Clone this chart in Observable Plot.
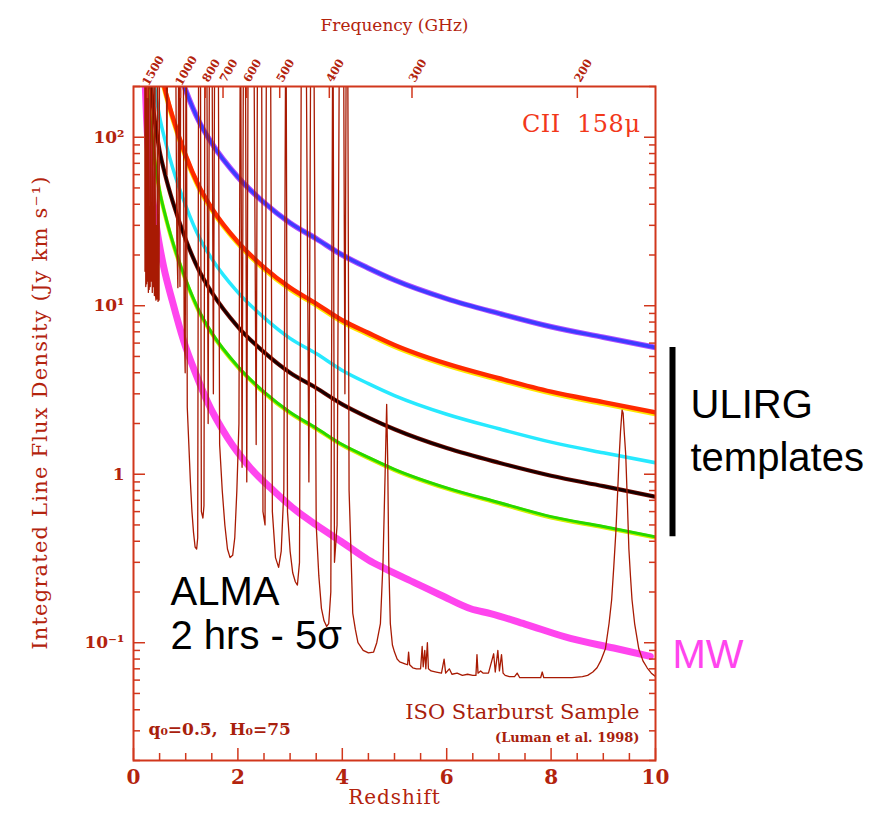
<!DOCTYPE html>
<html><head><meta charset="utf-8">
<script src="https://cdn.jsdelivr.net/npm/d3@7"></script>
<script src="https://cdn.jsdelivr.net/npm/@observablehq/plot@0.6"></script>
<style>body{margin:0;background:#fff}</style>
</head><body><div id="chart"></div>
<script>
// ---- data ----
const zGrid  = [0.25, 0.3, 0.4, 0.5, 0.6, 0.75, 1.0, 1.25, 1.5, 2.0, 2.5, 3.0, 3.5, 4.0, 4.5, 5.0, 6.0, 7.0, 8.0, 9.0, 10.0];
const blueV  = [3000, 2000, 1000, 640, 470, 320, 190, 125, 92, 58, 41, 31, 25, 20, 16.7, 14.2, 11.0, 9.0, 7.5, 6.5, 5.65];
const redV   = [1240, 824, 412, 264, 194, 132, 78, 51.5, 37.9, 23.9, 16.9, 12.8, 10.3, 8.2, 6.9, 5.85, 4.53, 3.71, 3.09, 2.68, 2.33];
const cyanV  = [620, 413, 207, 132, 97, 66, 39.3, 25.8, 19.0, 12.0, 8.5, 6.4, 5.2, 4.13, 3.45, 2.93, 2.27, 1.86, 1.55, 1.34, 1.17];
const blackV = [390, 260, 130, 83, 61, 41.6, 24.7, 16.3, 12.0, 7.5, 5.3, 4.0, 3.25, 2.6, 2.17, 1.85, 1.43, 1.17, 0.98, 0.85, 0.735];
const greenV = [225, 150, 75, 48, 35.3, 24, 14.3, 9.4, 6.9, 4.36, 3.08, 2.33, 1.88, 1.50, 1.26, 1.07, 0.83, 0.68, 0.56, 0.49, 0.425];

const mwZ = [0.2, 0.25, 0.33, 0.45, 0.58, 0.75, 0.96, 1.2, 1.41, 1.8, 2.24, 2.7, 3.14, 3.5, 3.97, 4.5, 4.8, 5.4, 5.88, 6.46, 6.84, 7.5, 8.37, 9.2, 9.9];
const mwV = [320, 130, 55.5, 28, 16.9, 10.5, 6.2, 3.9, 2.72, 1.65, 1.09, 0.79, 0.60, 0.50, 0.40, 0.31, 0.277, 0.226, 0.192, 0.159, 0.149, 0.129, 0.106, 0.093, 0.083];

const specZ = [0.20,0.215,0.22,0.23,0.235,0.245,0.25,0.26,0.265,0.275,0.285,0.29,0.30,0.31,0.32,0.33,0.34,0.35,0.36,0.37,0.38,0.39,0.40,0.41,0.42,0.43,0.44,0.45,0.46,0.47,0.48,0.49,0.50,0.62,0.64,0.66,0.80,0.83,0.85,0.87,0.89,0.91,0.95,0.97,0.99,1.01,1.03,1.06,1.09,1.12,1.15,1.18,1.21,1.23,1.25,1.28,1.30,1.33,1.35,1.37,1.40,1.43,1.46,1.50,1.53,1.56,1.62,1.65,1.70,1.75,1.80,1.85,1.90,1.94,1.98,2.02,2.05,2.08,2.11,2.14,2.17,2.20,2.30,2.35,2.38,2.45,2.48,2.52,2.55,2.62,2.66,2.72,2.78,2.83,2.88,2.92,2.95,3.00,3.05,3.10,3.14,3.18,3.22,3.30,3.36,3.40,3.45,3.50,3.55,3.60,3.65,3.70,3.74,3.78,3.82,3.85,3.90,3.95,4.02,4.05,4.08,4.10,4.13,4.16,4.20,4.25,4.30,4.40,4.50,4.60,4.66,4.73,4.78,4.82,4.85,4.87,4.89,4.92,4.96,5.00,5.05,5.10,5.15,5.20,5.25,5.27,5.29,5.35,5.42,5.50,5.53,5.55,5.58,5.60,5.63,5.65,5.70,5.80,5.90,5.95,5.98,6.05,6.10,6.20,6.30,6.40,6.50,6.56,6.58,6.60,6.65,6.70,6.80,6.90,6.93,6.98,7.01,7.05,7.08,7.12,7.20,7.30,7.35,7.40,7.60,7.80,7.83,7.86,8.00,8.20,8.40,8.60,8.70,8.80,8.88,8.95,9.04,9.11,9.16,9.20,9.24,9.27,9.30,9.33,9.36,9.38,9.40,9.43,9.46,9.49,9.52,9.55,9.60,9.68,9.76,9.84,9.92,10.0];
const specV = [1000,1000,16,1000,13,40,13.5,1000,14,22,12,1000,12.5,25,13,1000,14,35,12,1000,13,20,11.5,1000,11.8,10.8,30,11,1000,10.6,14,10.8,1000,1000,60,1000,1000,25,12.8,1000,13,1000,1000,8,4,1000,2.5,1.5,0.9,0.6,0.45,0.37,0.36,0.42,1000,1000,0.6,0.55,0.65,1000,1000,2,1000,1000,3,1000,1000,1.5,0.8,0.5,0.36,0.32,0.33,0.42,0.8,2,1000,1.1,1000,1000,0.9,1000,1000,1.5,1000,1000,0.6,0.5,1000,1000,0.6,0.32,0.28,0.35,0.8,1000,0.6,0.35,0.26,0.23,0.22,0.3,1000,1000,0.9,1000,1000,0.5,0.25,0.16,0.135,0.125,0.13,0.2,1000,0.3,0.5,1000,1000,3,1000,1000,0.8,0.4,0.15,0.12,0.1,0.09,0.087,0.088,0.1,0.13,0.3,1.0,2.6,1.2,0.3,0.13,0.097,0.088,0.08,0.077,0.076,0.075,0.074,0.088,0.074,0.071,0.07,0.07,0.095,0.072,0.09,0.07,0.1,0.07,0.068,0.067,0.066,0.08,0.066,0.07,0.065,0.066,0.064,0.065,0.064,0.064,0.085,0.066,0.068,0.066,0.066,0.086,0.067,0.09,0.068,0.085,0.066,0.064,0.063,0.063,0.066,0.062,0.062,0.062,0.067,0.062,0.062,0.062,0.062,0.063,0.064,0.067,0.071,0.078,0.092,0.13,0.18,0.28,0.45,0.72,1.2,1.8,2.4,2.3,1.8,1.3,0.7,0.36,0.25,0.18,0.13,0.092,0.078,0.071,0.066,0.063];

const freqLabels = [1500, 1000, 800, 700, 600, 500, 400, 300, 200];
const xMajor = [0, 2, 4, 6, 8, 10];
const xMinor = [0.5,1,1.5,2.5,3,3.5,4.5,5,5.5,6.5,7,7.5,8.5,9,9.5];
const yMajor = [0.1, 1, 10, 100];
const yTickLabels = ["10\u207B\u00B9", "1", "10\u00B9", "10\u00B2"];
const yMinor = [0.02,0.03,0.04,0.05,0.06,0.07,0.08,0.09,0.2,0.3,0.4,0.5,0.6,0.7,0.8,0.9,2,3,4,5,6,7,8,9,20,30,40,50,60,70,80,90,200];
const CII_GHZ = 1900.54; // rest frequency of the [CII] 158 micron line

// ---- build tables ----
const curve = vals => zGrid.map((z, i) => ({z, v: vals[i]}));
const mw = mwZ.map((z, i) => ({z, v: mwV[i]}));
const spec = specZ.map((z, i) => ({z, v: specV[i]}));
const freqTicks = freqLabels.map(f => ({f, z: CII_GHZ / f - 1}));

const frameColor = "#d1371c";
const textColor = "#b3230d";
const serif = "DejaVu Serif";
const sans = "Liberation Sans";
const L = (data, o) => Plot.line(data, {x: "z", y: "v", curve: "monotone-x", clip: true, strokeLinecap: "round", ...o});

const chart = Plot.plot({
  width: 876, height: 816,
  marginTop: 86, marginBottom: 56, marginLeft: 133, marginRight: 221,
  style: {fontFamily: serif, background: "white", overflow: "visible"},
  x: {domain: [0, 10]},
  y: {type: "log", domain: [0.02, 200]},
  marks: [
    // template curves
    L(curve(blueV), {stroke: "#b04cff", strokeWidth: 5.5}),
    L(curve(blueV), {stroke: "#3d3cff", strokeWidth: 3.5}),
    L(curve(redV), {stroke: "#ffe600", strokeWidth: 5, dy: 1.5}),
    L(curve(redV), {stroke: "#ff2a00", strokeWidth: 4.5}),
    L(curve(cyanV), {stroke: "#27e9ff", strokeWidth: 3.5}),
    L(curve(blackV), {stroke: "#7a0c00", strokeWidth: 4.2}),
    L(curve(blackV), {stroke: "#160000", strokeWidth: 2.6}),
    L(curve(greenV), {stroke: "#d4f000", strokeWidth: 4, dy: 0.8}),
    L(curve(greenV), {stroke: "#26d800", strokeWidth: 3}),
    L(mw, {stroke: "#ff45ee", strokeWidth: 7}),
    // ISO starburst spectrum
    Plot.line(spec, {x: "z", y: "v", stroke: "#a81a03", strokeWidth: 1.3, clip: true}),
    // frame and ticks
    Plot.frame({stroke: frameColor, strokeWidth: 2}),
    Plot.axisX({anchor: "bottom", ticks: xMajor, tickSize: 12, dy: -12, stroke: frameColor, strokeWidth: 1.5, fill: "none", label: null}),
    Plot.axisX({anchor: "bottom", ticks: xMinor, tickSize: 7, dy: -7, stroke: frameColor, strokeWidth: 1.5, fill: "none", label: null}),
    Plot.axisX({anchor: "bottom", ticks: xMajor, tickSize: 0, tickPadding: 9, stroke: "none", fill: textColor, fontSize: 20, fontWeight: "bold", label: null}),
    Plot.axisX({anchor: "top", ticks: freqTicks.map(d => d.z), tickSize: 11, dy: 11, stroke: frameColor, strokeWidth: 1.5, fill: "none", label: null}),
    Plot.axisY({anchor: "left", ticks: yMajor, tickSize: 12, dx: 12, stroke: frameColor, strokeWidth: 1.5, fill: "none", label: null}),
    Plot.axisY({anchor: "left", ticks: yMinor, tickSize: 7, dx: 7, stroke: frameColor, strokeWidth: 1.5, fill: "none", label: null}),
    Plot.axisY({anchor: "right", ticks: yMajor, tickSize: 12, dx: -12, stroke: frameColor, strokeWidth: 1.5, fill: "none", label: null}),
    Plot.axisY({anchor: "right", ticks: yMinor, tickSize: 7, dx: -7, stroke: frameColor, strokeWidth: 1.5, fill: "none", label: null}),
    Plot.axisY({anchor: "left", ticks: yMajor, tickSize: 0, tickPadding: 9, stroke: "none", fill: textColor, fontSize: 17, fontWeight: "bold",
      tickFormat: d => yTickLabels[yMajor.indexOf(d)], label: null}),
    // top frequency labels
    Plot.text(freqTicks, {x: "z", text: d => String(d.f), frameAnchor: "top", dy: -18, dx: 2, rotate: -60, fontSize: 11.5, fontWeight: "bold", fill: textColor}),
    Plot.text(["Frequency (GHz)"], {frameAnchor: "top", dy: -68, fontSize: 17, fill: textColor}),
    Plot.text(["Redshift"], {frameAnchor: "bottom", dy: 43, fontSize: 20, fill: textColor}),
    Plot.text(["Integrated Line Flux Density (Jy km s\u207B\u00B9)"], {frameAnchor: "left", textAnchor: "middle", dx: -93, dy: -11, rotate: -90, fontSize: 21, fill: textColor}),
    // in-plot labels
    Plot.text(["CII  158\u03BC"], {frameAnchor: "top-right", textAnchor: "end", dx: -15, dy: 28, fontSize: 24, fill: "#f2381a"}),
    Plot.text(["ISO Starburst Sample"], {frameAnchor: "bottom-right", textAnchor: "end", dx: -16, dy: -42, fontSize: 21, fill: "#a8200c"}),
    Plot.text(["(Luman et al. 1998)"], {frameAnchor: "bottom-right", textAnchor: "end", dx: -16, dy: -19, fontSize: 13, fontWeight: "bold", fill: "#a8200c"}),
    Plot.text(["q\u2080=0.5,  H\u2080=75"], {frameAnchor: "bottom-left", textAnchor: "start", dx: 15, dy: -26, fontSize: 17, fontWeight: "bold", fill: "#a8200c"}),
    Plot.text(["ALMA"], {frameAnchor: "bottom-left", textAnchor: "start", dx: 37, dy: -156, fontSize: 40, fontFamily: sans, fill: "black"}),
    Plot.text(["2 hrs - 5\u03C3"], {frameAnchor: "bottom-left", textAnchor: "start", dx: 37, dy: -112, fontSize: 40, fontFamily: sans, fill: "black"}),
    // right annotations
    Plot.ruleX([{z: zGrid[zGrid.length - 1], lo: greenV[greenV.length - 1], hi: blueV[blueV.length - 1]}],
      {x: "z", y1: "lo", y2: "hi", dx: 17, stroke: "black", strokeWidth: 6}),
    Plot.text(["ULIRG"], {frameAnchor: "right", textAnchor: "start", dx: 35, dy: -18, fontSize: 40, fontFamily: sans, fill: "black"}),
    Plot.text(["templates"], {frameAnchor: "right", textAnchor: "start", dx: 35, dy: 35, fontSize: 40, fontFamily: sans, fill: "black"}),
    Plot.text(["MW"], {frameAnchor: "right", textAnchor: "start", dx: 17, dy: 232, fontSize: 40, fontFamily: sans, fill: "#ff45ee"})
  ]
});
// widen the spacing of a few titles to match the wide original lettering
const spacing = {"Integrated Line Flux Density (Jy km s\u207B\u00B9)": 1.2, "Redshift": 1, "CII  158\u03BC": 0.5};
d3.select(chart).selectAll("text").each(function () {
  const s = spacing[this.textContent];
  if (s) this.setAttribute("letter-spacing", s);
});
document.getElementById("chart").appendChild(chart);
</script></body></html>
